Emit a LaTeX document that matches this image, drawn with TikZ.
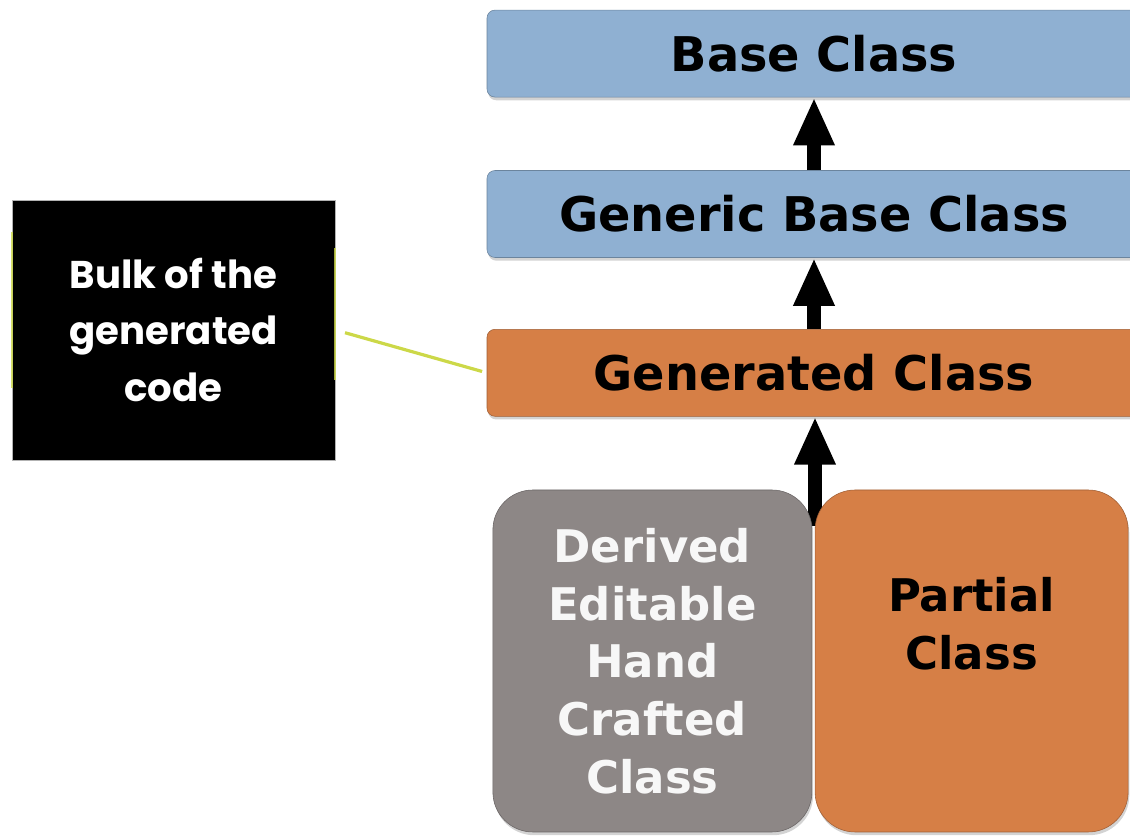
\documentclass[tikz,border=0pt]{standalone}
\usepackage{fontspec}
\setmainfont{DejaVu Sans}
\newfontfamily\bulkfont{Poppins}
\usetikzlibrary{arrows.meta,shadows}
\definecolor{classblue}{RGB}{143,176,210}
\definecolor{classorange}{RGB}{214,127,70}
\definecolor{classgray}{RGB}{141,135,134}
\definecolor{leadline}{RGB}{204,216,72}
\begin{document}
\begin{tikzpicture}[>={Triangle[width=0.95cm,length=1.2cm]},
  bar/.style={draw=#1!75!black,fill=#1,rounded corners=0.2cm,minimum width=16.35cm,minimum height=2.175cm,
    drop shadow={opacity=0.35,shadow xshift=0.03cm,shadow yshift=-0.08cm},font=\fontsize{34}{40}\selectfont\bfseries},
  block/.style={draw=#1!75!black,fill=#1,rounded corners=1cm,minimum height=8.55cm,align=center,
    drop shadow={opacity=0.35,shadow xshift=0.03cm,shadow yshift=-0.08cm},font=\fontsize{32}{41}\selectfont\bfseries},
  uparrow/.style={->,line width=0.33cm}]
\useasboundingbox (0,0) rectangle (28.25,20.9);
\node[bar=classblue] (base) at (20.35,19.56) {Base Class};
\node[bar=classblue] (generic) at (20.35,15.55) {Generic Base Class};
\node[bar=classorange] (gen) at (20.35,11.58) {Generated Class};
\draw[uparrow] (generic) -- (base);
\draw[uparrow] (gen) -- (generic);
% shaft starts between the two blocks
\coordinate (join) at (20.375,7.75);
\draw[uparrow] (join) -- (gen.south -| join);
\node[block=classgray,minimum width=7.975cm,text=white!94!gray] (derived) at (16.31,4.375) {Derived\\Editable\\Hand\\Crafted\\Class};
\node[block=classorange,minimum width=7.825cm] (partial) at (24.29,4.375) {Partial\\Class\\\strut};
\node[draw=gray!60,fill=black,text=white,align=center,minimum width=8.075cm,minimum height=6.5cm,
  font=\bulkfont\bfseries\fontsize{27.5}{40}\selectfont] (bulk) at (4.34,12.65) {Bulk of the\\generated\\code};
% yellow glow on the side edges
\draw[leadline,line width=0.05cm,opacity=0.8] ([yshift=-0.8cm]bulk.north west) -- ([yshift=1.8cm]bulk.south west);
\draw[leadline,line width=0.05cm,opacity=0.8] ([yshift=-1.2cm]bulk.north east) -- ([yshift=2.0cm]bulk.south east);
\draw[leadline,line width=0.08cm,shorten <=0.25cm,shorten >=0.12cm] (bulk.east) -- (gen.west);
\end{tikzpicture}
\end{document}
